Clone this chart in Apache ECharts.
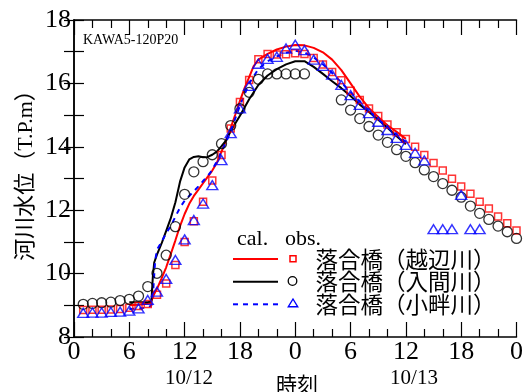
<!DOCTYPE html>
<html>
<head>
<meta charset="utf-8">
<script src="https://cdn.jsdelivr.net/npm/echarts@6/dist/echarts.min.js"></script>
<style>html,body{margin:0;padding:0;background:#fff}#c{width:526px;height:392px}</style>
</head>
<body>
<div id="c"></div>
<script>
// ---- data ----
const obsHours = [1,2,3,4,5,6,7,8,9,10,11,12,13,14,15,16,17,18,19,20,21,22,23,24,25,26,27,28,29,30,31,32,33,34,35,36,37,38,39,40,41,42,43,44,45,46,47,48];
const obsOppe = [8.85,8.86,8.86,8.87,8.88,8.92,8.98,9.04,9.33,9.69,10.27,11.0,11.65,12.27,12.94,13.74,14.58,15.41,16.11,16.76,16.93,16.91,16.92,16.95,16.93,16.80,16.60,16.36,16.10,15.77,15.48,15.21,14.97,14.70,14.46,14.25,14.00,13.74,13.49,13.25,12.99,12.75,12.52,12.27,12.05,11.80,11.59,11.36];
const obsIruma = [9.03,9.06,9.08,9.10,9.15,9.19,9.29,9.59,10.01,10.58,11.48,12.50,13.21,13.53,13.75,14.10,14.67,15.20,15.72,16.13,16.30,16.30,16.30,16.30,16.30,null,null,null,15.48,15.16,14.89,14.64,14.37,14.14,13.91,13.70,13.50,13.27,13.06,12.84,12.63,12.41,12.13,11.90,11.71,11.50,11.32,11.11];
const obsKoaze = [8.76,8.77,8.77,8.79,8.80,8.83,8.90,9.17,9.43,9.83,10.43,11.08,11.69,12.21,12.79,13.58,14.43,15.21,15.92,16.62,16.77,16.84,17.10,17.22,17.05,16.75,16.55,16.28,15.95,15.63,15.32,15.06,14.79,14.53,14.28,14.06,13.81,13.57,11.40,11.40,11.40,12.48,11.40,11.40];

const calOppeHours = [6,7,8,8.3,8.6,9,9.5,10,10.5,11,11.5,12,12.5,13,13.5,14,14.5,15,15.5,16,16.5,17,17.5,18,18.5,19,19.5,20,21,22,23,24,25,26,27,28,29,30,31,32,33,34,35,36];
const calOppe = [9.00,9.02,9.05,9.07,9.30,9.52,9.85,10.2,10.62,11.05,11.5,11.88,12.2,12.45,12.65,12.85,13.05,13.25,13.5,13.85,14.2,14.6,15.02,15.45,15.85,16.2,16.55,16.75,16.93,17.07,17.16,17.21,17.2,17.12,16.98,16.75,16.42,16.0,15.58,15.22,14.94,14.68,14.47,14.25];

const calIrumaHours = [6,7,8,8.4,8.55,8.7,9,9.5,10,10.5,11,11.5,12,12.5,13,13.5,14,14.5,15,15.5,16,16.5,17,18,19,20,21,22,23,24,25,26,27,28,29,30,31,32,33,34,35,36];
const calIruma = [9.10,9.10,9.10,9.12,9.9,10.35,10.6,10.95,11.35,11.75,12.25,12.9,13.35,13.6,13.68,13.7,13.67,13.68,13.75,13.85,14.02,14.2,14.5,14.98,15.5,15.95,16.25,16.45,16.6,16.7,16.7,16.52,16.3,16.07,15.85,15.6,15.33,15.1,14.85,14.6,14.33,14.08];

const calKoazeHours = [6,7,8,8.4,8.6,8.8,9,9.5,10,10.5,11,11.5,12,12.5,13,13.5,14,14.5,15,15.5,16,16.5,17,18,19,20,21,22,23,24,25,26,27,28,29,30,31,32,33,34,35,36];
const calKoaze = [8.88,8.9,8.93,9.0,9.5,10.4,10.75,11.0,11.28,11.5,11.8,12.08,12.3,12.45,12.6,12.75,12.92,13.08,13.27,13.55,13.85,14.15,14.5,15.3,16.0,16.45,16.7,16.85,16.97,17.03,16.98,16.82,16.6,16.33,16.03,15.72,15.42,15.14,14.87,14.62,14.38,14.15];

const xTickLabels = ['0','6','12','18','0','6','12','18','0'];
const legendNames = ['落合橋（越辺川）','落合橋（入間川）','落合橋（小畔川）'];
const dateLabels = ['10/12','10/13'];

// ---- build ----
const pair = (xs, ys) => xs.map((x, i) => [x, ys[i]]);
const serif = 'Liberation Serif';
const cjk = 'Noto Sans CJK JP';

const axisCommon = {
  axisLine: {show: true, lineStyle: {color: '#000', width: 1.5}},
  splitLine: {show: false}
};

const chart = echarts.init(document.getElementById('c'));
chart.setOption({
  animation: false,
  backgroundColor: '#fff',
  grid: {left: 74, top: 20, right: 7, bottom: 55},
  xAxis: [
    Object.assign({
      type: 'value', min: 0, max: 48, interval: 6, position: 'bottom',
      axisTick: {inside: true, length: 15, lineStyle: {color: '#000', width: 1.2}},
      minorTick: {show: true, splitNumber: 3, length: 8, lineStyle: {color: '#000', width: 1.2}},
      axisLabel: {margin: 2, fontFamily: serif, fontSize: 26, color: '#000',
        formatter: v => xTickLabels[Math.round(v / 6)]}
    }, axisCommon),
    Object.assign({
      type: 'value', min: 0, max: 48, interval: 6, position: 'top',
      axisTick: {inside: true, length: 15, lineStyle: {color: '#000', width: 1.2}},
      minorTick: {show: true, splitNumber: 3, length: 8, lineStyle: {color: '#000', width: 1.2}},
      axisLabel: {show: false}
    }, axisCommon)
  ],
  yAxis: [
    Object.assign({
      type: 'value', min: 8, max: 18, interval: 1, position: 'left',
      axisTick: {inside: true, length: 10, lineStyle: {color: '#000', width: 1.2}},
      axisLabel: {margin: 3, fontFamily: serif, fontSize: 26, color: '#000',
        formatter: v => (v % 2 === 0 ? String(v) : '')}
    }, axisCommon),
    Object.assign({
      type: 'value', min: 8, max: 18, interval: 1, position: 'right',
      axisTick: {inside: true, length: 10, lineStyle: {color: '#000', width: 1.2}},
      axisLabel: {show: false}
    }, axisCommon)
  ],
  series: [
    {type: 'line', data: pair(calOppeHours, calOppe), showSymbol: false, symbol: 'none',
     lineStyle: {color: '#ff0000', width: 2}, z: 2},
    {type: 'line', data: pair(calIrumaHours, calIruma), showSymbol: false, symbol: 'none',
     lineStyle: {color: '#000', width: 2}, z: 2},
    {type: 'line', data: pair(calKoazeHours, calKoaze), showSymbol: false, symbol: 'none',
     lineStyle: {color: '#0000ff', width: 2, type: [5, 5]}, z: 2},
    {type: 'scatter', data: pair(obsHours, obsOppe).filter(d => d[1] != null), symbol: 'rect', symbolSize: 7,
     itemStyle: {color: 'rgba(0,0,0,0)', borderColor: '#ff0000', borderWidth: 1.5}, z: 3},
    {type: 'scatter', data: pair(obsHours, obsIruma).filter(d => d[1] != null), symbol: 'circle', symbolSize: 10,
     itemStyle: {color: 'rgba(0,0,0,0)', borderColor: '#000', borderWidth: 1.3}, z: 3},
    {type: 'scatter', data: pair(obsHours.slice(0, obsKoaze.length), obsKoaze), symbol: 'triangle', symbolSize: [11, 9],
     itemStyle: {color: 'rgba(0,0,0,0)', borderColor: '#0000ff', borderWidth: 1.4}, z: 3}
  ],
  graphic: [
    {type: 'text', left: 83, top: 33, style: {text: 'KAWA5-120P20', font: '14px "' + serif + '"', fill: '#000'}},
    {type: 'text', x: 26, y: 170, rotation: Math.PI / 2,
     style: {text: '河川水位（T.P.m）', font: '22px "' + serif + '", "' + cjk + '"', fill: '#000', align: 'center', verticalAlign: 'middle'}},
    {type: 'text', x: 189, y: 378, style: {text: dateLabels[0], font: '21px "' + serif + '"', fill: '#000', align: 'center', verticalAlign: 'middle'}},
    {type: 'text', x: 414, y: 378, style: {text: dateLabels[1], font: '21px "' + serif + '"', fill: '#000', align: 'center', verticalAlign: 'middle'}},
    {type: 'text', x: 297, y: 384, style: {text: '時刻', font: '21px "' + cjk + '"', fill: '#000', align: 'center', verticalAlign: 'middle'}},
    // legend
    {type: 'text', x: 237, y: 239, style: {text: 'cal.', font: '22px "' + serif + '"', fill: '#000', verticalAlign: 'middle'}},
    {type: 'text', x: 285, y: 239, style: {text: 'obs.', font: '22px "' + serif + '"', fill: '#000', verticalAlign: 'middle'}},
    {type: 'line', shape: {x1: 233, y1: 259, x2: 278, y2: 259}, style: {stroke: '#ff0000', lineWidth: 2}},
    {type: 'line', shape: {x1: 233, y1: 281.7, x2: 278, y2: 281.7}, style: {stroke: '#000', lineWidth: 2}},
    {type: 'line', shape: {x1: 233, y1: 304.3, x2: 278, y2: 304.3}, style: {stroke: '#0000ff', lineWidth: 2, lineDash: [5, 5]}},
    {type: 'rect', shape: {x: 290, y: 255.7, width: 6, height: 6}, style: {fill: 'none', stroke: '#ff0000', lineWidth: 1.5}},
    {type: 'circle', shape: {cx: 292.5, cy: 281, r: 4.3}, style: {fill: 'none', stroke: '#000', lineWidth: 1.3}},
    {type: 'polygon', shape: {points: [[293, 299], [297.7, 306.7], [288.3, 306.7]]}, style: {fill: 'none', stroke: '#0000ff', lineWidth: 1.4}},
    {type: 'text', x: 315.5, y: 259.5, style: {text: legendNames[0], font: '22.5px "' + cjk + '"', fill: '#000', verticalAlign: 'middle'}},
    {type: 'text', x: 315.5, y: 281.7, style: {text: legendNames[1], font: '22.5px "' + cjk + '"', fill: '#000', verticalAlign: 'middle'}},
    {type: 'text', x: 315.5, y: 304, style: {text: legendNames[2], font: '22.5px "' + cjk + '"', fill: '#000', verticalAlign: 'middle'}}
  ]
});
</script>
</body>
</html>
